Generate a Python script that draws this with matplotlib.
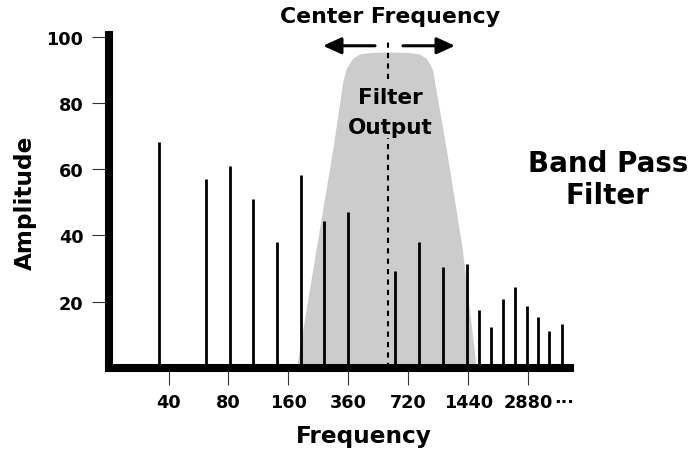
import matplotlib
matplotlib.use("Agg")
import matplotlib.pyplot as plt
from matplotlib.patches import FancyArrowPatch

plt.rcParams['font.family'] = ['DejaVu Sans']
plt.rcParams['font.weight'] = 'bold'

# ---- data ----
tick_positions = [1, 2, 3, 4, 5, 6, 7]
tick_labels = ["40", "80", "160", "360", "720", "1440", "2880"]

line_x = [0.838, 1.622, 2.017, 2.412, 2.805, 3.205, 3.595, 3.995, 4.783, 5.183,
          5.578, 5.972, 6.178, 6.372, 6.572, 6.767, 6.972, 7.162, 7.35, 7.555]
line_amp = [68.2, 56.9, 61.0, 50.8, 38.0, 58.2, 44.4, 47.0, 29.3, 38.0,
            30.5, 31.2, 17.5, 12.3, 20.7, 24.3, 18.7, 15.3, 11.2, 13.1]

filter_x = [3.142, 3.47, 3.747, 3.913, 3.97, 4.075, 4.192, 4.358, 4.658,
            5.025, 5.192, 5.308, 5.403, 5.442, 5.637, 5.903, 6.137]
filter_y = [0.0, 35.9, 66.0, 86.3, 90.2, 93.2, 94.6, 95.0, 95.2,
            95.0, 94.6, 93.2, 90.2, 86.3, 66.0, 35.9, 0.0]

center_freq = 4.663
yticks = [20, 40, 60, 80, 100]

W, H = 696, 456
fig = plt.figure(figsize=(W / 100, H / 100), dpi=100)
L, R, B, T = 108.5, 570.0, 368.8, 36.0
ax = fig.add_axes([L / W, 1 - B / H, (R - L) / W, (B - T) / H])
ax.set_xlim(0, (R - L) / 60.0)
ax.set_ylim(0, (B - T) / 3.313)

# filter shape
ax.fill(filter_x, filter_y, color='#cccccc', zorder=1, lw=0)

# spectral lines
ax.vlines(line_x, 0, line_amp, colors='black', lw=2.0, zorder=3)

# center frequency dashed line (interrupted by the "Filter Output" label)
for y0, y1 in [(87.2, 99.2), (0, 69.4)]:
    ax.plot([center_freq, center_freq], [y0, y1], color='black', lw=1.5,
            ls=(0, (2.5, 2.5)), zorder=2, clip_on=False)

# arrows
for x0, x1 in [(4.442, 3.575), (4.908, 5.775)]:
    ax.add_patch(FancyArrowPatch((x0, 97.2), (x1, 97.2),
                                 arrowstyle='-|>,head_length=11,head_width=5',
                                 mutation_scale=1, lw=2.2, color='black',
                                 shrinkA=0, shrinkB=0, clip_on=False))

# spines
for s in ['top', 'right']:
    ax.spines[s].set_visible(False)
for s in ['left', 'bottom']:
    ax.spines[s].set_linewidth(5.8)
    ax.spines[s].set_capstyle('projecting')

ax.set_xticks(tick_positions)
ax.set_xticklabels(tick_labels)
ax.set_yticks(yticks)
ax.tick_params(axis='both', length=12, width=0.8, color='#333333',
               labelsize=12.7, pad=6)
for lab in ax.get_xticklabels() + ax.get_yticklabels():
    lab.set_fontweight('bold')

ax.text(7.6, -0.06, "...", transform=ax.get_xaxis_transform(), ha='center',
        va='top', fontsize=12.7, fontweight='bold')

# texts
ax.text(4.69, 106.2, "Center Frequency", ha='center', va='center',
        fontsize=15.8, fontweight='bold', clip_on=False)
ax.text(4.69, 80.0, "Filter", ha='center', va='baseline',
        fontsize=15.5, fontweight='bold')
ax.text(4.69, 71.0, "Output", ha='center', va='baseline',
        fontsize=15.5, fontweight='bold')
ax.text(8.325, 57, "Band Pass\nFilter", ha='center', va='center',
        fontsize=20, fontweight='bold', linespacing=1.2, clip_on=False)

fig.text(25 / W, 1 - 203 / H, "Amplitude", rotation=90, ha='center',
         va='center', fontsize=16.7, fontweight='bold')
fig.text(364 / W, 1 - 437 / H, "Frequency", ha='center', va='center',
         fontsize=16.7, fontweight='bold')

fig.savefig("out.png", dpi=100)
